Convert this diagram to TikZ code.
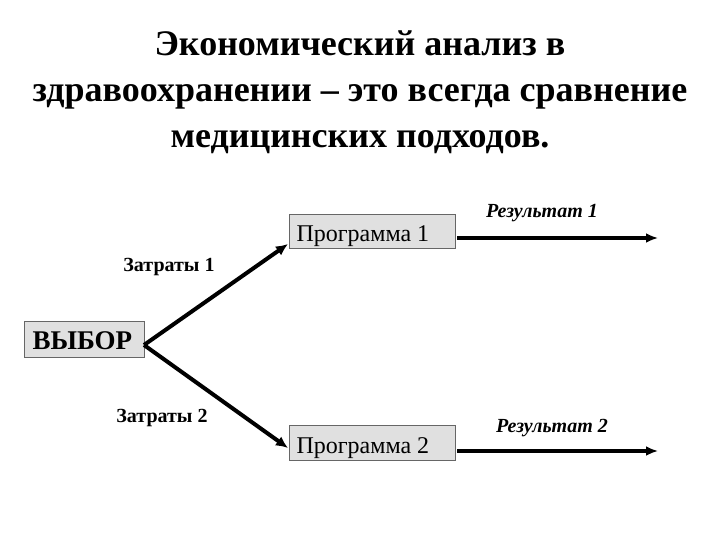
\documentclass[tikz,border=0pt]{standalone}
\usepackage{fontspec}
\setmainfont{Liberation Serif}
\usetikzlibrary{arrows.meta}
\begin{document}
\begin{tikzpicture}[x=1pt,y=-1pt,
  box/.style={draw=black!60, fill=black!12, line width=0.6pt, inner sep=0pt, anchor=north west},
  lbl/.style={font=\fontsize{20}{22}\selectfont\bfseries},
  res/.style={font=\fontsize{20}{22}\selectfont\bfseries\itshape},
  arr/.style={line width=4pt, -{Latex[length=12pt,width=11pt]}},
  harr/.style={line width=3.2pt, -{Latex[length=12pt,width=10pt]}}]
\useasboundingbox (0,0) rectangle (720,540);
\node[font=\fontsize{36}{46}\selectfont\bfseries, align=center, anchor=base] (title) at (360,148)
  {Экономический анализ в\\здравоохранении – это всегда сравнение\\медицинских подходов.};
\node[box, minimum width=120pt, minimum height=36pt] (vybor) at (24,321) {};
\node[font=\fontsize{27}{29}\selectfont\bfseries, anchor=base west] (vt) at (29,349) {ВЫБОР};
\node[box, minimum width=166pt, minimum height=34pt] (p1) at (289,214) {};
\node[font=\fontsize{24}{26}\selectfont, anchor=base west] (p1t) at (293,241) {Программа 1};
\node[box, minimum width=166pt, minimum height=35pt] (p2) at (289,425) {};
\node[font=\fontsize{24}{26}\selectfont, anchor=base west] (p2t) at (293,453) {Программа 2};
\coordinate (vs) at (144,345);
\coordinate (p1in) at (288,244);
\coordinate (p2in) at (288,448);
\coordinate (p1out) at (457,238);
\coordinate (p2out) at (457,451);
\coordinate (r1) at (658,238);
\coordinate (r2) at (658,451);
\draw[arr] (vs) -- (p1in);
\draw[arr] (vs) -- (p2in);
\draw[harr] (p1out) -- (r1);
\draw[harr] (p2out) -- (r2);
\node[lbl] (z1) at (169,267) {Затраты 1};
\node[lbl] (z2) at (162,418) {Затраты 2};
\node[res] (rl1) at (542,213) {Результат 1};
\node[res] (rl2) at (552,428) {Результат 2};
\end{tikzpicture}
\end{document}
